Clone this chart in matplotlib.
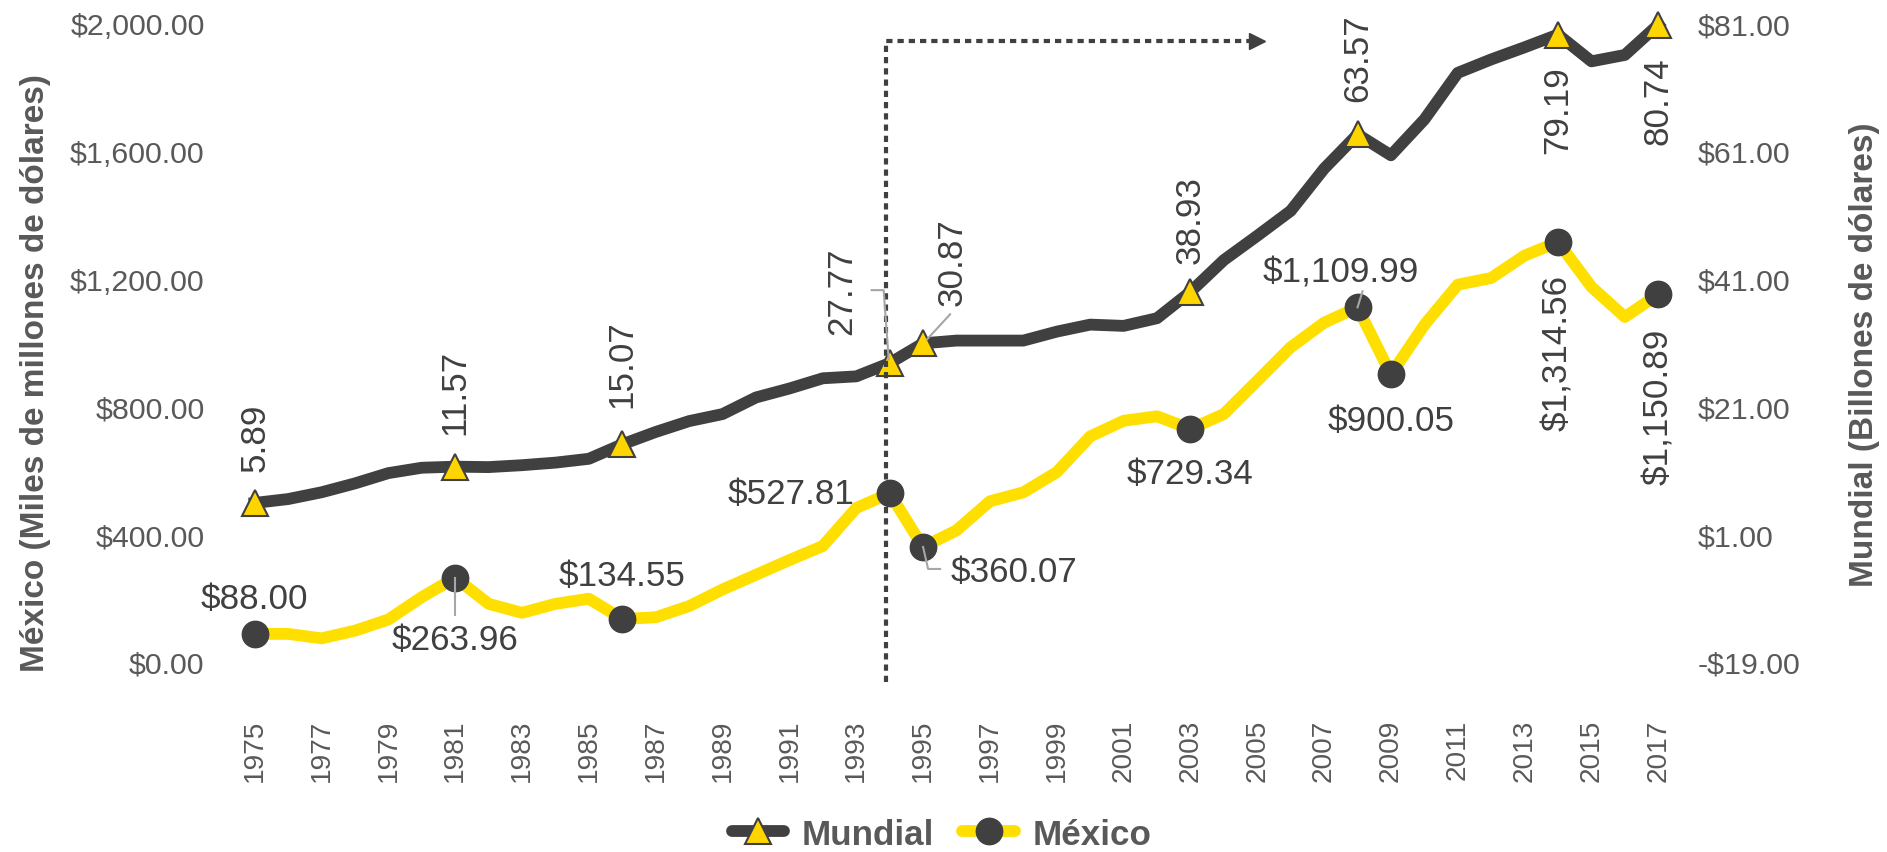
import matplotlib
matplotlib.use("Agg")
import matplotlib.pyplot as plt
from matplotlib import font_manager
from matplotlib.lines import Line2D
from matplotlib.transforms import IdentityTransform
from matplotlib.ticker import FuncFormatter

# data
years = list(range(1975, 2018))
mexico = [88.00, 88, 74, 98, 133, 203, 263.96, 182, 154, 182, 198, 134.55, 140, 175,
          227, 273, 319, 363, 482, 527.81, 360.07, 412, 503, 531, 594, 706, 755, 769,
          729.34, 776, 880, 985, 1062, 1109.99, 900.05, 1055, 1181, 1202, 1272, 1314.56,
          1174, 1080, 1150.89]
mundial = [5.89, 6.5, 7.56, 8.95, 10.56, 11.4, 11.57, 11.5, 11.8, 12.2, 12.8, 15.07, 17.0,
           18.7, 19.8, 22.4, 23.8, 25.4, 25.7, 27.77, 30.87, 31.3, 31.3, 31.3, 32.7, 33.8,
           33.6, 34.8, 38.93, 43.9, 47.7, 51.6, 58.2, 63.57, 60.3, 65.9, 73.2, 75.3, 77.2,
           79.19, 75.0, 76.0, 80.74]
mundial_marked = [1975, 1981, 1986, 1994, 1995, 2003, 2008, 2014, 2017]
mexico_marked = [1975, 1981, 1986, 1994, 1995, 2003, 2008, 2009, 2014, 2017]
left_ticks = [0, 400, 800, 1200, 1600, 2000]
right_ticks = [-19, 1, 21, 41, 61, 81]
xticks = list(range(1975, 2018, 2))

DARK = "#404040"
YELLOW = "#FFDF00"
TRI = "#FFD500"
GRAY = "#595959"
LEAD = "#A6A6A6"

names = {f.name for f in font_manager.fontManager.ttflist}
if "Liberation Sans Narrow" in names:
    NF, k = "Liberation Sans Narrow", 1.0
else:
    NF, k = "Liberation Sans", 0.84

fig = plt.figure(figsize=(18.87, 8.53), dpi=100)
ax = fig.add_axes([238 / 1887, 190 / 853, (1675 - 238) / 1887, 639 / 853])
ax2 = ax.twinx()

ax.set_xlim(1974.5, 2017.5)
ax.set_ylim(0, 2000)
ax2.set_ylim(-19, 81)

ax.plot(years, mexico, color=YELLOW, lw=8.5, zorder=2, clip_on=False)
mi = [years.index(y) for y in mexico_marked]
ax.plot(years, mexico, ls="none", marker="o", ms=19, mfc=DARK, mec=DARK,
        markevery=mi, zorder=3, clip_on=False)

ax2.plot(years, mundial, color=DARK, lw=8.5, zorder=2, clip_on=False)
wi = [years.index(y) for y in mundial_marked]
ax2.plot(years, mundial, ls="none", marker="^", ms=19, mfc=TRI, mec=DARK, mew=1.5,
         markevery=wi, zorder=3, clip_on=False)

for a in (ax, ax2):
    for s in a.spines.values():
        s.set_visible(False)
    a.tick_params(length=0)

ax.set_yticks(left_ticks)
ax.yaxis.set_major_formatter(FuncFormatter(lambda v, p: f"${v:,.2f}"))
ax2.set_yticks(right_ticks)
ax2.yaxis.set_major_formatter(
    FuncFormatter(lambda v, p: f"-${abs(v):,.2f}" if v < 0 else f"${v:,.2f}"))
ax.set_xticks(xticks)
ax.set_xticklabels([str(y) for y in xticks], rotation=90, va="top", ha="center")
ax.tick_params(axis="y", pad=24, labelsize=26 * k, labelcolor=GRAY)
ax2.tick_params(axis="y", pad=16, labelsize=26 * k, labelcolor=GRAY)
ax.tick_params(axis="x", pad=41, labelsize=24 * k, labelcolor=GRAY)
for lab in ax.get_yticklabels() + ax2.get_yticklabels() + ax.get_xticklabels():
    lab.set_family(NF)

# dotted marker line at 1994 with arrow
dot = (0, (1.5, 1.2))
ax2.plot([1993.88, 1993.88, 2004.8], [-63, 1944, 1944], transform=ax.transData,
         color=DARK, lw=3, ls=dot, zorder=5, clip_on=False)
ax2.plot([2005.0], [1944], transform=ax.transData, marker=">", ms=11, color=DARK,
         zorder=5, clip_on=False)

LS = 30 * k


def put(a, x, y, text, dx, dy, ha, va, rot, leader=None):
    a.annotate(text, (x, y), xytext=(dx, dy), textcoords="offset pixels",
               ha=ha, va=va, rotation=rot, fontsize=LS, family=NF, color=DARK,
               zorder=6, annotation_clip=False)
    if leader:
        x0, y0 = a.transData.transform((x, y))
        fig.add_artist(Line2D([x0 + p[0] for p in leader], [y0 + p[1] for p in leader],
                              transform=IdentityTransform(), color=LEAD, lw=1.5,
                              zorder=7))


# Mundial labels
wpos = {
    1975: (0, 32, "center", "bottom", None),
    1981: (0, 33, "center", "bottom", None),
    1986: (0, 37, "center", "bottom", None),
    1994: (-48, 73, "center", "center", [(-18, 73), (-6, 73), (-1, 4)]),
    1995: (29, 82, "center", "center", [(27, 29), (4, 4)]),
    2003: (0, 29, "center", "bottom", None),
    2008: (0, 33, "center", "bottom", None),
    2014: (0, -31, "center", "top", None),
    2017: (0, -32, "center", "top", None),
}
for yr in mundial_marked:
    v = mundial[years.index(yr)]
    dx, dy, ha, va, ld = wpos[yr]
    put(ax2, yr, v, f"{v:.2f}", dx, dy, ha, va, 90, ld)

# México labels
mpos = {
    1975: (0, 19, "center", "bottom", 0, None),
    1981: (0, -45, "center", "top", 0, [(0, 0), (0, -37)]),
    1986: (0, 27, "center", "bottom", 0, None),
    1994: (-35, 0, "right", "center", 0, None),
    1995: (28, -25, "left", "center", 0, [(0, 0), (5, -22), (17, -22)]),
    2003: (0, -28, "center", "top", 0, None),
    2008: (-17, 19, "center", "bottom", 0, [(0, 0), (5, 16)]),
    2009: (0, -30, "center", "top", 0, None),
    2014: (0, -32, "center", "top", 90, None),
    2017: (0, -33, "center", "top", 90, None),
}
for yr in mexico_marked:
    v = mexico[years.index(yr)]
    dx, dy, ha, va, rot, ld = mpos[yr]
    put(ax, yr, v, f"${v:,.2f}", dx, dy, ha, va, rot, ld)

fig.text(36 / 1887, 1 - 373 / 853, "México (Miles de millones de dólares)", rotation=90,
         ha="center", va="center", fontsize=24, fontweight="bold", color=GRAY,
         family="Liberation Sans")
fig.text(1865 / 1887, 1 - 355 / 853, "Mundial (Billones de dólares)", rotation=90,
         ha="center", va="center", fontsize=24, fontweight="bold", color=GRAY,
         family="Liberation Sans")

handles = [
    Line2D([], [], color=DARK, lw=8.5, solid_capstyle="round", marker="^", ms=19,
           mfc=TRI, mec=DARK, mew=1.5),
    Line2D([], [], color=YELLOW, lw=8.5, solid_capstyle="round", marker="o", ms=19,
           mfc=DARK, mec=DARK),
]
fig.legend(handles, ["Mundial", "México"], loc="center", bbox_to_anchor=(0.499, 0.021),
           ncol=2, frameon=False, handlelength=1.5, handletextpad=0.5,
           columnspacing=0.8, labelcolor=GRAY,
           prop={"family": NF, "weight": "bold", "size": 30 * k})

fig.savefig("out.png", dpi=100)
